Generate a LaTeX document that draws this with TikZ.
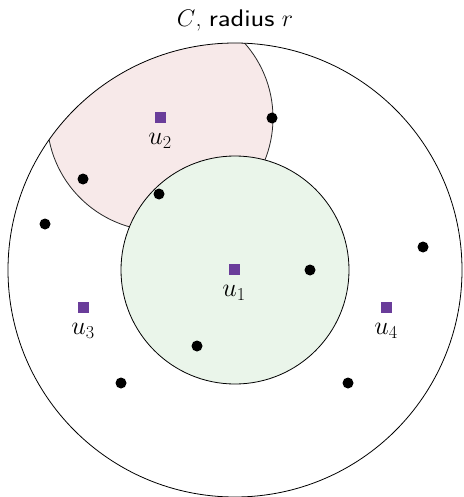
\RequirePackage{fix-cm}
\documentclass[tikz,border=0pt]{standalone}
\usepackage{tikz}
\begin{document}
\begin{tikzpicture}[x=1pt,y=-1pt,
  dot/.style={circle,fill=black,inner sep=0pt,minimum size=11pt},
  sq/.style={rectangle,fill=violet2,inner sep=0pt,minimum size=11pt},
  lab/.style={font=\fontsize{26}{30}\selectfont,inner sep=0pt},
  ttl/.style={font=\fontsize{24}{28}\selectfont,inner sep=0pt,anchor=base}]
\definecolor{violet2}{RGB}{106,61,154}
\definecolor{pinkf}{RGB}{247,233,233}
\definecolor{greenf}{RGB}{234,245,234}
\useasboundingbox (0,0) rectangle (463,497);
\coordinate (c) at (235,270);
\coordinate (c2) at (160,118);
% pink region
\begin{scope}
  \clip (c) circle[radius=227];
  \fill[pinkf] (c2) circle[radius=113];
  \draw[line width=0.8pt, black!85] (c2) circle[radius=113];
\end{scope}
\draw[line width=0.8pt] (c) circle[radius=227];
\draw[line width=0.8pt, fill=greenf] (c) circle[radius=114];
% title
\node[ttl] (title) at (235,27) {$C$, {\fontsize{24}{28}\selectfont\scalebox{1.18}[1]{\textsf{radius}}} $r$};
% points
\node[dot] (p1) at (272,118) {};
\node[dot] (p2) at (83,179) {};
\node[dot] (p3) at (159,194) {};
\node[dot] (p4) at (45,224) {};
\node[dot] (p5) at (423,247) {};
\node[dot] (p6) at (310,270) {};
\node[dot] (p7) at (197,346) {};
\node[dot] (p8) at (121,383) {};
\node[dot] (p9) at (348,383) {};
% centers
\node[sq] (u1) at (234,269) {};
\node[sq] (u2) at (160,118) {};
\node[sq] (u3) at (83,307) {};
\node[sq] (u4) at (386,307) {};
\node[lab] (l1) at (234,293) {$u_1$};
\node[lab] (l2) at (160,141) {$u_2$};
\node[lab] (l3) at (83,331) {$u_3$};
\node[lab] (l4) at (386,331) {$u_4$};
\end{tikzpicture}
\end{document}
